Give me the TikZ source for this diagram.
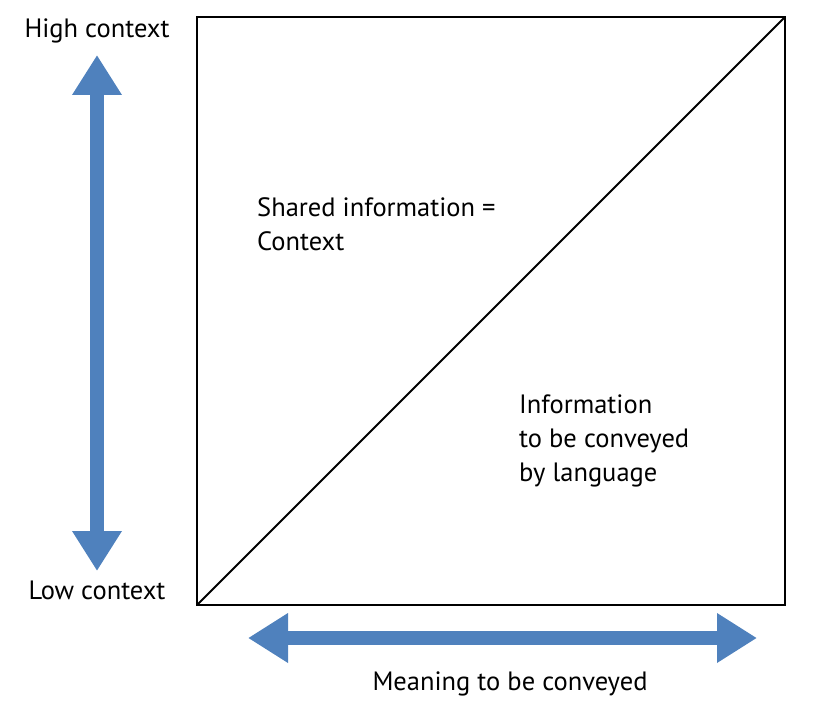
\documentclass[tikz,border=0pt]{standalone}
\usepackage{fontspec}
\setmainfont{PT Sans}
\usetikzlibrary{arrows.meta}
\definecolor{axisblue}{RGB}{79,129,189}

\begin{document}
\begin{tikzpicture}[x=1pt, y=-1pt,
  every node/.style={font=\fontsize{26.5}{34}\selectfont, inner sep=0pt},
  axis/.style={draw=axisblue, line width=14pt,
    {Triangle[width=47pt, length=40pt]}-{Triangle[width=47pt, length=40pt]}},
  label/.style={anchor=base west, align=left}
]
  \useasboundingbox (0,0) rectangle (827,706);

  % square with diagonal
  \draw[line width=2.5pt] (197,17) rectangle (785,605);
  \draw[line width=1.8pt] (197,605) -- (785,17);

  % axes
  \coordinate (top) at (97,55);
  \coordinate (bottom) at (97,571);
  \coordinate (left) at (248,638);
  \coordinate (right) at (757,638);
  \draw[axis] (bottom) -- (top);
  \draw[axis] (left) -- (right);

  % labels (multi-line: base is the last line)
  \node[anchor=base] (high) at (97,38) {High context};
  \node[anchor=base] (low) at (97,599) {Low context};
  \node[anchor=base] (meaning) at (510,690) {Meaning to be conveyed};
  \node[label] (shared) at (257,250) {Shared information =\\Context};
  \node[label] (info) at (519,481) {Information\\to be conveyed\\by language};
\end{tikzpicture}
\end{document}
